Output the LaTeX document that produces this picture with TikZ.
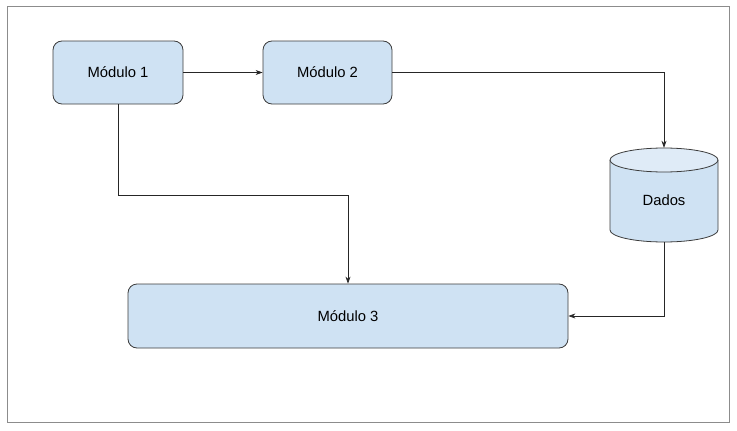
\documentclass[tikz,border=0pt]{standalone}
\usepackage{fontspec}
\setmainfont{Liberation Sans}
\usepackage{xcolor}
\usetikzlibrary{arrows.meta, positioning}

\definecolor{boxfill}{HTML}{CFE2F3}
\definecolor{boxtop}{HTML}{DFEBF7}
\definecolor{boxline}{HTML}{3C3C3C}
\definecolor{frameline}{HTML}{8C8C8C}

\begin{document}
\begin{tikzpicture}[x=1pt, y=-1pt,
    modulo/.style={draw=boxline, fill=boxfill, rounded corners=9pt, line width=0.8pt,
        font=\fontsize{14.8}{17}\selectfont, inner sep=0pt},
    seta/.style={-{Stealth[length=7pt, width=5pt]}, line width=0.7pt, draw=black!85}]
    % Canvas and frame
    \useasboundingbox (0,0) rectangle (737,431);
    \draw[frameline, line width=1pt] (7.5,6.5) rectangle (729,422);

    % Modules
    \node[modulo, minimum width=130pt, minimum height=63pt] (m1) at (118,72.5) {Módulo 1};
    \node[modulo, minimum width=129pt, minimum height=63pt] (m2) at (327.5,72.5) {Módulo 2};
    \node[modulo, minimum width=440pt, minimum height=64pt] (m3) at (348,316) {Módulo 3};

    % Database cylinder
    \node[minimum width=108pt, minimum height=94pt, inner sep=0pt] (dados) at (664,195) {};
    \filldraw[fill=boxfill, draw=boxline, line width=0.8pt]
        (610,160) -- (610,230) arc[start angle=180, end angle=0, x radius=54, y radius=12]
        -- (718,160);
    \filldraw[fill=boxtop, draw=boxline, line width=0.8pt]
        (664,160) ellipse[x radius=54, y radius=12];
    \node[font=\fontsize{14.8}{17}\selectfont] (dadoslbl) at (664,200) {Dados};

    % Connectors
    \coordinate (bend) at (348,195);
    \draw[seta] (m1) -- (m2);
    \draw[seta] (m2.east) -| (dados.north);
    \draw[seta] (m1.south) |- (bend) -- (m3.north);
    \draw[seta] (dados.south) |- (m3.east);
\end{tikzpicture}
\end{document}
